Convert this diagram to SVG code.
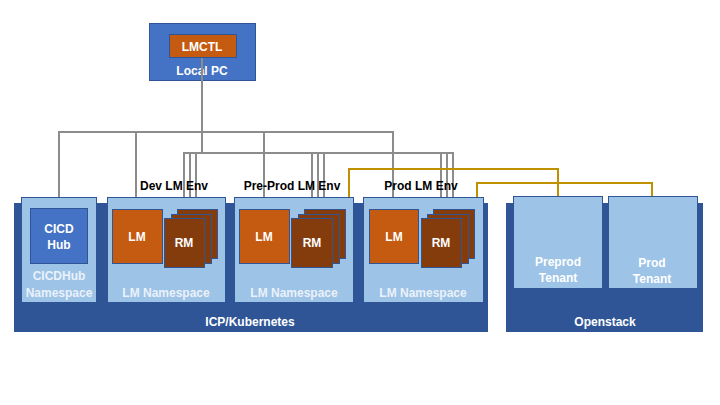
<svg xmlns="http://www.w3.org/2000/svg" width="720" height="405" viewBox="0 0 720 405">
<style>
.panel{fill:#2F5597}
.ns{fill:#9DC3E6;stroke:#2F5597;stroke-width:1}
.blue{fill:#4472C4;stroke:#2F5597;stroke-width:1}
.lm{fill:#C55A11;stroke:#2F5597;stroke-width:1}
.rm{fill:#843C0C;stroke:#2F5597;stroke-width:1}
text{font-family:"Liberation Sans",Arial,sans-serif;font-weight:bold;text-anchor:middle}
.w{fill:#FFFFFF;font-size:12px}
.nsl{fill:#EAF1FA;font-size:12px}
.k{fill:#000000;font-size:12px}
.gray{fill:none;stroke:#8C8C8C;stroke-width:2}
.gold{fill:none;stroke:#BF9000;stroke-width:2}
</style>
<rect width="720" height="405" fill="#FFFFFF"/>

<g id="icp-kubernetes">
<rect class="panel" x="14" y="203" width="474" height="129"/>
<text class="w" x="250" y="326">ICP/Kubernetes</text>
</g>
<g id="openstack">
<rect class="panel" x="506" y="203" width="197" height="129"/>
<text class="w" x="605" y="326">Openstack</text>
</g>

<g id="connectors">
<path class="gray" d="M202,57 V132 H59 V208"/>
<path class="gray" d="M202,132 H136 V209"/>
<path class="gray" d="M202,132 H264 V209"/>
<path class="gray" d="M202,132 H393 V209"/>
<path class="gray" d="M202,132 V153 H184 V218"/>
<path class="gray" d="M202,153 H190 V214"/>
<path class="gray" d="M202,153 H196 V209"/>
<path class="gray" d="M202,153 H312 V218"/>
<path class="gray" d="M202,153 H318 V214"/>
<path class="gray" d="M202,153 H324 V209"/>
<path class="gray" d="M202,153 H441 V218"/>
<path class="gray" d="M202,153 H447 V214"/>
<path class="gray" d="M202,153 H453 V209"/>
<path class="gray" d="M162,237 H165"/>
<path class="gray" d="M289,237 H292"/>
<path class="gray" d="M418,237 H422"/>
<path class="gold" d="M332,243 H349 V169 H558 V196"/>
<path class="gold" d="M461,243 H477 V183 H652 V196"/>
</g>

<g id="local-pc">
<rect class="blue" x="149.500" y="23.500" width="106" height="57"/>
<text class="w" x="202" y="75">Local PC</text>
</g>
<g id="lmctl">
<rect class="lm" x="169.500" y="34.500" width="67" height="23"/>
<text class="w" x="202" y="50.500">LMCTL</text>
</g>
<path class="gray" d="M202,58 V81"/>

<g id="cicdhub-namespace">
<rect class="ns" x="21.500" y="197.500" width="75" height="105"/>
<text class="nsl" x="59" y="280">CICDHub</text>
<text class="nsl" x="59" y="297">Namespace</text>
</g>
<g id="cicd-hub">
<rect class="blue" x="30.500" y="208.500" width="57" height="55"/>
<text class="w" x="59" y="233">CICD</text>
<text class="w" x="59" y="249">Hub</text>
</g>

<g id="dev-lm-env">
<text class="k" x="174" y="190">Dev LM Env</text>
<rect class="ns" x="107.500" y="197.500" width="118" height="105"/>
<text class="nsl" x="166" y="297">LM Namespace</text>
</g>
<g id="dev-lm">
<rect class="lm" x="112.500" y="209.500" width="50" height="54"/>
<text class="w" x="137" y="241">LM</text>
</g>
<g id="dev-rm">
<rect class="rm" x="177.500" y="209.500" width="40" height="49"/>
<rect class="rm" x="171.500" y="214.500" width="40" height="49"/>
<rect class="rm" x="164.500" y="218.500" width="40" height="49"/>
<text class="w" x="184" y="247">RM</text>
</g>

<g id="preprod-lm-env">
<text class="k" x="292" y="190">Pre-Prod LM Env</text>
<rect class="ns" x="234.500" y="197.500" width="119" height="105"/>
<text class="nsl" x="294" y="297">LM Namespace</text>
</g>
<g id="preprod-lm">
<rect class="lm" x="239.500" y="209.500" width="50" height="54"/>
<text class="w" x="264" y="241">LM</text>
</g>
<g id="preprod-rm">
<rect class="rm" x="304.500" y="209.500" width="41" height="49"/>
<rect class="rm" x="298.500" y="214.500" width="41" height="49"/>
<rect class="rm" x="291.500" y="218.500" width="41" height="49"/>
<text class="w" x="312" y="247">RM</text>
</g>

<g id="prod-lm-env">
<text class="k" x="421" y="190">Prod LM Env</text>
<rect class="ns" x="363.500" y="197.500" width="120" height="105"/>
<text class="nsl" x="423" y="297">LM Namespace</text>
</g>
<g id="prod-lm">
<rect class="lm" x="369.500" y="209.500" width="49" height="54"/>
<text class="w" x="394" y="241">LM</text>
</g>
<g id="prod-rm">
<rect class="rm" x="433.500" y="209.500" width="41" height="49"/>
<rect class="rm" x="427.500" y="214.500" width="41" height="49"/>
<rect class="rm" x="421.500" y="218.500" width="40" height="49"/>
<text class="w" x="441" y="247">RM</text>
</g>

<g id="preprod-tenant">
<rect class="ns" x="513.500" y="196.500" width="89" height="92"/>
<text class="w" x="558" y="266">Preprod</text>
<text class="w" x="558" y="282">Tenant</text>
</g>
<g id="prod-tenant">
<rect class="ns" x="608.500" y="196.500" width="89" height="92"/>
<text class="w" x="652" y="267">Prod</text>
<text class="w" x="652" y="283">Tenant</text>
</g>
</svg>
